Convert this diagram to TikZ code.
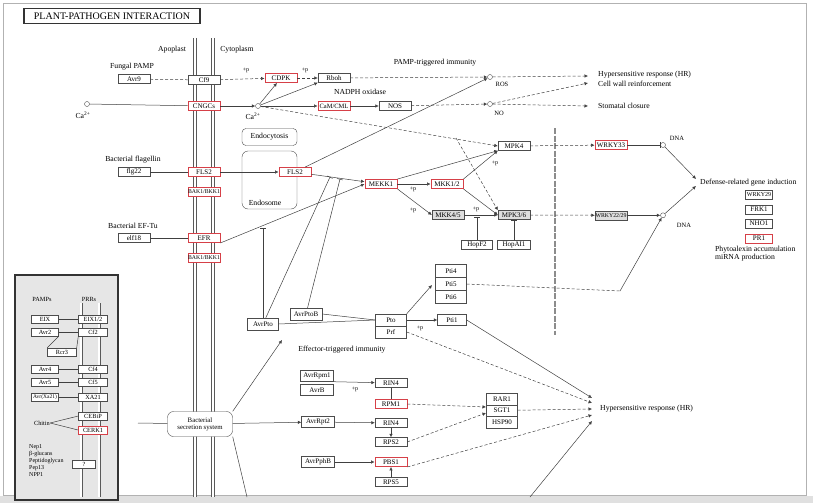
\documentclass[tikz,border=0pt]{standalone}
\usepackage{fontspec}
\setmainfont{Liberation Serif}
\usepackage{tikz}
\usetikzlibrary{positioning,arrows.meta}

\definecolor{keggred}{RGB}{214,64,72}
\definecolor{panelgray}{RGB}{230,230,230}

\begin{document}
\begin{tikzpicture}[x=1pt, y=-1pt, font=\fontsize{7.7}{8}\selectfont, >={Latex[length=3.5pt,width=3.5pt]},
  gene/.style={draw=black!70, fill=white, minimum width=32pt, minimum height=9pt, inner sep=0pt, font=\fontsize{7}{7}\selectfont},
  redgene/.style={gene, draw=keggred, line width=0.9pt},
  graygene/.style={gene, fill=black!13},
  small/.style={gene, minimum width=27pt, minimum height=8pt, font=\fontsize{6.3}{6.3}\selectfont},
  cpd/.style={circle, draw=black!70, fill=white, minimum size=5pt, inner sep=0pt},
  txt/.style={inner sep=0pt},
  pl/.style={inner sep=0pt, font=\fontsize{6}{6}\selectfont},
  wire/.style={draw=black!75, line width=0.5pt},
  dwire/.style={wire, dash pattern=on 3pt off 2pt},
  inh/.style={wire, -{Bar[width=6pt]}},
  membrane/.style={draw=black!65, line width=0.7pt, double=white, double distance=2.6pt},
  process/.style={draw=black!70, rounded corners=4pt, fill=white, align=center, inner sep=1pt}]
  \useasboundingbox (0,0) rectangle (813,503);
  % frame and title
  \fill[black!12] (0,496) rectangle (813,503);
  \draw[black!30, line width=0.8pt] (3,3) rectangle (806,495);
  \node[draw=black!80, line width=1.2pt, minimum width=176pt, minimum height=15pt, font=\fontsize{10}{10}\selectfont] (title) at (112,16) {PLANT-PATHOGEN INTERACTION};
  % cell membrane
  \draw[membrane] (195,38) -- (195,497);
  \draw[membrane] (213,38) -- (213,497);
  \node[txt] (apo) at (172,50) {Apoplast};
  \node[txt] (cyto) at (237,50) {Cytoplasm};
  % fungal PAMP, calcium and ROS / NO
  \node[txt] (fpamp) at (132,67) {Fungal PAMP};
  \node[gene] (avr9) at (134,79) {Avr9};
  \node[gene] (cf9) at (204,80) {Cf9};
  \node[redgene] (cdpk) at (281,78) {CDPK};
  \node[gene] (rboh) at (334,78) {Rboh};
  \node[txt] (ptilbl) at (435,63) {PAMP-triggered immunity};
  \node[txt] (nadph) at (360,92) {NADPH oxidase};
  \node[cpd] (ros) at (490,77) {};
  \node[txt, font=\fontsize{6.5}{7}\selectfont] (roslbl) at (502,84) {ROS};
  \node[redgene] (cngc) at (204,106) {CNGCs};
  \node[cpd] (ca1) at (87,104) {};
  \node[txt] (ca1lbl) at (83,115) {Ca\textsuperscript{2+}};
  \node[cpd] (ca2) at (258,106) {};
  \node[txt] (ca2lbl) at (253,116) {Ca\textsuperscript{2+}};
  \node[redgene, font=\fontsize{6.5}{7}\selectfont] (cam) at (334,106) {CaM/CML};
  \node[gene] (nos) at (395,106) {NOS};
  \node[cpd] (no) at (490,104) {};
  \node[txt, font=\fontsize{6.5}{7}\selectfont] (nolbl) at (499,113) {NO};
  \node[txt, anchor=west] (hr1) at (598,75) {Hypersensitive response (HR)};
  \node[txt, anchor=west] (cwr) at (598,84) {Cell wall reinforcement};
  \node[txt, anchor=west] (stom) at (598,106) {Stomatal closure};
  \coordinate (hr1in) at (588,76);
  \coordinate (cwrin) at (588,83);
  \coordinate (stomin) at (588,106);
  \draw[dwire] (avr9) -- (cf9);
  \draw[dwire,->] (cf9) -- (cdpk);
  \node[pl] (p1) at (246,70) {+p};
  \draw[dwire,->] (cdpk) -- (rboh);
  \node[pl] (p2) at (305,70) {+p};
  \draw[dwire,->] (rboh) -- (ros);
  \draw[wire] (ca1) -- (cngc);
  \draw[wire,->] (cngc) -- (ca2);
  \draw[wire,->] (ca2) -- (cdpk);
  \draw[wire,->] (ca2) -- (rboh.south west);
  \draw[wire,->] (ca2) -- (cam);
  \draw[wire,->] (cam) -- (nos);
  \draw[dwire,->] (nos) -- (no);
  \draw[dwire,->] (ros) -- (hr1in);
  \draw[dwire,->] (no) -- (cwrin);
  \draw[dwire,->] (no) -- (stomin);
  % flagellin and EF-Tu receptors
  \node[process, minimum width=55pt, minimum height=17pt] (endocyt) at (269.5,137) {Endocytosis};
  \node[draw=black!70, rounded corners=6pt, minimum width=55pt, minimum height=58pt] (endo) at (269.5,180) {};
  \node[txt] (endolbl) at (265,203) {Endosome};
  \node[txt] (flag) at (133,160) {Bacterial flagellin};
  \node[gene] (flg22) at (134,172) {flg22};
  \node[redgene] (fls2m) at (204,172) {FLS2};
  \node[redgene, font=\fontsize{5.8}{6}\selectfont] (bak1a) at (204,192) {BAK1/BKK1};
  \node[redgene] (fls2c) at (295,172) {FLS2};
  \node[txt] (eftu) at (133,226) {Bacterial EF-Tu};
  \node[gene] (elf18) at (134,238) {elf18};
  \node[redgene] (efr) at (204,238) {EFR};
  \node[redgene, font=\fontsize{5.8}{6}\selectfont] (bak1b) at (204,258) {BAK1/BKK1};
  % MAPK cascade
  \node[redgene] (mekk1) at (381,184) {MEKK1};
  \node[redgene] (mkk12) at (447,184) {MKK1/2};
  \node[graygene] (mkk45) at (448,215) {MKK4/5};
  \node[gene] (mpk4) at (514,146) {MPK4};
  \node[graygene] (mpk36) at (514,215) {MPK3/6};
  \node[gene, minimum width=31pt] (hopf2) at (477,245) {HopF2};
  \node[gene, minimum width=33pt] (hopai1) at (514,245) {HopAI1};
  \coordinate (cabr) at (456,138);
  \coordinate (hopf2t) at (477,217);
  \draw[wire] (flg22) -- (fls2m);
  \draw[wire,->] (fls2m) -- (fls2c);
  \draw[wire,->] (fls2c) -- (ros);
  \draw[wire,->] (fls2c) -- (mekk1);
  \draw[wire] (elf18) -- (efr);
  \draw[wire,->] (efr.south east) -- (mekk1.west);
  \draw[dwire,->] (ca2) -- (mpk4.west);
  \draw[dwire,->] (cabr) -- (mpk36.north west);
  \draw[wire,->] (mekk1) -- (mkk12);
  \node[pl] (p3) at (413,189) {+p};
  \draw[wire,->] (mekk1.south east) -- (mkk45.west);
  \node[pl] (p4) at (413,210) {+p};
  \draw[wire,->] (mekk1.north east) -- (mpk4.south west);
  \draw[wire,->] (mkk12.north east) -- (mpk4.south west);
  \node[pl] (p5) at (495,163) {+p};
  \draw[wire,->] (mkk12.south east) -- (mpk36.west);
  \draw[wire,->] (mkk45) -- (mpk36);
  \node[pl] (p6) at (476,209) {+p};
  \draw[inh] (hopf2) -- (hopf2t);
  \draw[inh] (hopai1) -- (mpk36);
  % nucleus border and transcription factors
  \draw[black!45, line width=2.5pt, dash pattern=on 6pt off 1.5pt] (555,128) -- (555,335);
  \node[redgene] (wrky33) at (611,145) {WRKY33};
  \node[graygene, font=\fontsize{5.8}{6}\selectfont] (wrky2229) at (611,215.3) {WRKY22/29};
  \node[cpd] (dna1) at (663,145) {};
  \node[txt, font=\fontsize{6.5}{7}\selectfont] (dna1lbl) at (677,138) {DNA};
  \node[cpd] (dna2) at (663,215.3) {};
  \node[txt, font=\fontsize{6.5}{7}\selectfont] (dna2lbl) at (684,225) {DNA};
  \node[txt, anchor=west] (defense) at (700,183) {Defense-related gene induction};
  \coordinate (def1) at (696,179);
  \coordinate (def2) at (696,186);
  \node[gene, minimum width=27pt, font=\fontsize{6}{6}\selectfont] (g1) at (759,195) {WRKY29};
  \node[gene, minimum width=27pt] (g2) at (759,209.5) {FRK1};
  \node[gene, minimum width=27pt] (g3) at (759,223.5) {NHO1};
  \node[redgene, minimum width=27pt] (g4) at (759,238.5) {PR1};
  \node[txt, anchor=west] (phyto) at (715,250) {Phytoalexin accumulation};
  \node[txt, anchor=west] (mirna) at (715,258) {miRNA production};
  \draw[dwire,->] (mpk4) -- (wrky33);
  \draw[dwire,->] (mpk36) -- (wrky2229);
  \draw[inh] (wrky33) -- (dna1);
  \draw[wire,->] (wrky2229) -- (dna2);
  \draw[wire,->] (dna1) -- (def1);
  \draw[wire,->] (dna2) -- (def2);
  % effectors against PTI
  \node[gene, minimum width=31pt, minimum height=12pt] (avrpto) at (263,324) {AvrPto};
  \node[gene, minimum width=32pt, minimum height=12pt] (avrptob) at (306,314) {AvrPtoB};
  \node[gene, minimum width=31pt, minimum height=12pt] (pto) at (391,320) {Pto};
  \node[gene, minimum width=31pt, minimum height=12pt] (prf) at (391,332) {Prf};
  \node[gene, minimum width=31pt, minimum height=13pt] (pti4) at (451,271) {Pti4};
  \node[gene, minimum width=31pt, minimum height=13pt] (pti5) at (451,284) {Pti5};
  \node[gene, minimum width=31pt, minimum height=13pt] (pti6) at (451,297) {Pti6};
  \node[gene, minimum width=29pt, minimum height=11pt] (pti1) at (452,320) {Pti1};
  \coordinate (efrt) at (263,228);
  \coordinate (flst1) at (330,177);
  \coordinate (flst2) at (340,179);
  \coordinate (ptiend) at (620,291);
  \coordinate (pti4in) at (432,285);
  \draw[inh] (avrpto) -- (efrt);
  \draw[inh] (avrpto) -- (flst1);
  \draw[inh] (avrptob) -- (flst2);
  \draw[wire] (avrpto.east) -- (pto.west);
  \draw[wire] (avrptob.east) -- (pto.west);
  \draw[wire,->] (pto.north east) -- (pti4in);
  \draw[wire,->] (pto) -- (pti1);
  \node[pl] (p7) at (420,328) {+p};
  \draw[dwire] (pti5.east) -- (ptiend);
  \draw[wire,->] (ptiend) -- (dna2);
  % effector-triggered immunity
  \node[txt] (etilbl) at (342,350) {Effector-triggered immunity};
  \node[process, minimum width=65pt, minimum height=25pt, rounded corners=6pt, font=\fontsize{6.8}{7.2}\selectfont] (bss) at (200,424) {Bacterial\\secretion system};
  \node[gene, minimum width=33pt, minimum height=11pt] (avrrpm1) at (317,376) {AvrRpm1};
  \node[gene, minimum width=33pt, minimum height=11pt] (avrb) at (317,390) {AvrB};
  \node[gene] (rin4a) at (391,383) {RIN4};
  \node[redgene] (rpm1) at (391,404) {RPM1};
  \node[gene, minimum width=33pt, minimum height=11pt] (avrrpt2) at (318,422) {AvrRpt2};
  \node[gene] (rin4b) at (391,423) {RIN4};
  \node[gene] (rps2) at (391,442) {RPS2};
  \node[gene, minimum width=33pt, minimum height=11pt] (avrpphb) at (318,462) {AvrPphB};
  \node[redgene] (pbs1) at (391,462) {PBS1};
  \node[gene] (rps5) at (391,482) {RPS5};
  \node[gene, minimum width=31pt, minimum height=11.5pt] (rar1) at (502,399) {RAR1};
  \node[gene, minimum width=31pt, minimum height=11.5pt] (sgt1) at (502,410.5) {SGT1};
  \node[gene, minimum width=31pt, minimum height=11.5pt] (hsp90) at (502,422) {HSP90};
  \node[txt, anchor=west] (hr2) at (600,409) {Hypersensitive response (HR)};
  \coordinate (bssin) at (138,423);
  \coordinate (bssout) at (247,497);
  \coordinate (effarr) at (282,340);
  \coordinate (stk1) at (486,407);
  \coordinate (stk2) at (486,413);
  \coordinate (hra) at (592,398);
  \coordinate (hrb) at (592,403);
  \coordinate (hrc) at (592,409);
  \coordinate (hrd) at (592,415);
  \coordinate (hre) at (592,421);
  \coordinate (hrlow) at (530,497);
  \draw[wire] (bssin) -- (bss);
  \draw[wire,->] (bss) -- (avrrpt2);
  \draw[wire,->] (bss.north east) -- (effarr);
  \draw[wire] (bss.south east) -- (bssout);
  \draw[wire,->] (avrrpm1.south east) -- (rin4a);
  \node[pl] (p8) at (355,389) {+p};
  \draw[wire] (rin4a) -- (rpm1);
  \draw[wire,->] (avrrpt2) -- (rin4b);
  \draw[wire,->] (rin4b) -- (rps2);
  \draw[wire,->] (avrpphb) -- (pbs1);
  \draw[wire,->] (rps5) -- (pbs1);
  \draw[dwire,->] (rpm1.east) -- (stk1);
  \draw[dwire,->] (rps2.east) -- (stk2);
  \draw[wire,->] (pti1.east) -- (hra);
  \draw[dwire,->] (prf.east) -- (hrb);
  \draw[dwire,->] (sgt1) -- (hrc);
  \draw[dwire,->] (pbs1.south east) -- (hrd);
  \draw[wire,->] (hrlow) -- (hre);
  % inset: other PAMPs and PRRs
  \draw[black!80, line width=1.2pt, fill=panelgray] (15,275) rectangle (118,500);
  \draw[membrane, line width=0.6pt, double distance=1.8pt] (81,303) -- (81,497);
  \draw[membrane, line width=0.6pt, double distance=1.8pt] (99,303) -- (99,497);
  \node[txt, font=\fontsize{6.3}{7}\selectfont] (pamps) at (42,299) {PAMPs};
  \node[txt, font=\fontsize{6.3}{7}\selectfont] (prrs) at (89,299) {PRRs};
  \node[small] (eix) at (45,319) {EIX};
  \node[small] (avr2) at (45,332) {Avr2};
  \node[small, minimum width=29pt] (rcr3) at (62,352) {Rcr3};
  \node[small] (avr4) at (45,369) {Avr4};
  \node[small] (avr5) at (45,382) {Avr5};
  \node[small, font=\fontsize{5.5}{6}\selectfont] (avrxa) at (45,397) {Avr(Xa21)};
  \node[small, minimum width=29pt] (eix12) at (93,319) {EIX1/2};
  \node[small, minimum width=29pt] (cf2) at (93,332) {Cf2};
  \node[small, minimum width=29pt] (cf4) at (93,369) {Cf4};
  \node[small, minimum width=29pt] (cf5) at (93,382) {Cf5};
  \node[small, minimum width=29pt] (xa21) at (93,397) {XA21};
  \node[small, minimum width=29pt] (cebip) at (93,416) {CEBiP};
  \node[small, minimum width=29pt, draw=keggred, line width=0.9pt] (cerk1) at (93,430) {CERK1};
  \node[txt, font=\fontsize{6.3}{7}\selectfont] (chitin) at (42,423) {Chitin};
  \node[txt, align=left, anchor=north west, font=\fontsize{6}{7}\selectfont] (elic) at (29,444) {Nep1\\β-glucans\\Peptidoglycan\\Pep13\\NPP1};
  \node[small, minimum width=23pt] (qbox) at (84,464) {?};
  \draw[wire] (eix) -- (eix12);
  \draw[wire] (avr2) -- (cf2);
  \draw[wire] (avr2.south east) -- (rcr3.north west);
  \draw[wire] (rcr3.north east) -- (cf2.south west);
  \draw[wire] (avr4) -- (cf4);
  \draw[wire] (avr5) -- (cf5);
  \draw[wire] (avrxa) -- (xa21);
  \draw[wire] (chitin.east) -- (cebip.west);
  \draw[wire] (chitin.east) -- (cerk1.west);
\end{tikzpicture}
\end{document}
